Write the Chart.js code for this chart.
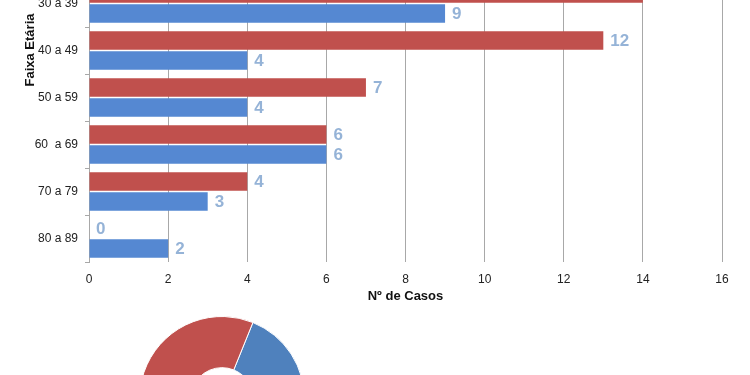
<!DOCTYPE html>
<html>
<head>
<meta charset="utf-8">
<script src="https://cdn.jsdelivr.net/npm/chart.js@4"></script>
<style>
    body { margin: 0; background: #fff; overflow: hidden; width: 750px; height: 375px; position: relative; }
    #barBox { position: absolute; left: 0; top: -40px; width: 750px; height: 348px; }
    #pieBox { position: absolute; left: 139px; top: 316px; width: 166px; height: 166px; }
</style>
</head>
<body>
<div id="barBox"><canvas id="barChart"></canvas></div>
<div id="pieBox"><canvas id="pieChart"></canvas></div>
<script>
// Faixas etárias (as que aparecem no recorte)
const faixas = ['30 a 39', '40 a 49', '50 a 59', '60  a 69', '70 a 79', '80 a 89'];
// comprimento das barras
const casosVermelho = [14, 13, 7, 6, 4, 0];
const casosAzul = [9, 4, 4, 6, 3, 2];
// rótulos escritos no gráfico (40 a 49 diz 12 embora a barra vá até 13)
const rotulosVermelho = ['14', '12', '7', '6', '4', '0'];
const rotulosAzul = ['9', '4', '4', '6', '3', '2'];
const ticksX = [0, 2, 4, 6, 8, 10, 12, 14, 16];
// rosca de baixo: azul, vermelho
const roscaValores = [28, 44];

const FONTE = '"Liberation Sans", Arial, sans-serif';

// escreve os valores à direita de cada barra
const rotulosPlugin = {
    id: 'rotulos',
    afterDatasetsDraw(chart) {
        const ctx = chart.ctx;
        const listas = [rotulosVermelho, rotulosAzul];
        ctx.save();
        ctx.font = 'bold 17px ' + FONTE;
        ctx.fillStyle = '#95B3D7';
        ctx.textAlign = 'left';
        ctx.textBaseline = 'middle';
        chart.data.datasets.forEach((ds, i) => {
            chart.getDatasetMeta(i).data.forEach((bar, j) => {
                ctx.fillText(listas[i][j], bar.x + 7, bar.y + 1);
            });
        });
        ctx.restore();
    }
};

// título do eixo Y (fica mais acima porque o eixo original é maior)
const tituloYPlugin = {
    id: 'tituloY',
    afterDraw(chart) {
        const ctx = chart.ctx;
        ctx.save();
        ctx.translate(30, 90);
        ctx.rotate(-Math.PI / 2);
        ctx.font = 'bold 13px ' + FONTE;
        ctx.fillStyle = '#111';
        ctx.textAlign = 'center';
        ctx.textBaseline = 'middle';
        ctx.fillText('Faixa Etária', 0, 0);
        ctx.restore();
    }
};

new Chart(document.getElementById('barChart'), {
    type: 'bar',
    data: {
        labels: faixas,
        datasets: [
            { data: casosVermelho, backgroundColor: '#C0504D' },
            { data: casosAzul, backgroundColor: '#5588D2' }
        ]
    },
    options: {
        indexAxis: 'y',
        responsive: true,
        maintainAspectRatio: false,
        animation: false,
        categoryPercentage: 0.85,
        barPercentage: 0.93,
        layout: { padding: { top: 20, right: 28, left: 0, bottom: 0 } },
        plugins: { legend: { display: false }, tooltip: { enabled: false } },
        scales: {
            x: {
                min: 0,
                max: 16,
                afterBuildTicks(scale) { scale.ticks = ticksX.map(v => ({ value: v })); },
                afterFit(scale) { scale.height = 46; },
                grid: { color: '#A8A8A8', drawTicks: false },
                border: { display: false },
                ticks: { padding: 10, color: '#222', font: { family: FONTE, size: 12 } },
                title: {
                    display: true,
                    text: 'Nº de Casos',
                    color: '#111',
                    font: { family: FONTE, size: 13, weight: 'bold' },
                    padding: { top: 1, bottom: 4 }
                }
            },
            y: {
                afterFit(scale) { scale.width = 89; },
                grid: { drawOnChartArea: false, drawTicks: true, tickLength: 4, color: '#A8A8A8', offset: true },
                border: { display: true, color: '#A8A8A8' },
                ticks: { padding: 7, color: '#222', font: { family: FONTE, size: 12 } }
            }
        }
    },
    plugins: [rotulosPlugin, tituloYPlugin]
});

new Chart(document.getElementById('pieChart'), {
    type: 'doughnut',
    data: {
        labels: ['Azul', 'Vermelho'],
        datasets: [{
            data: roscaValores,
            backgroundColor: ['#4F81BD', '#C0504D'],
            borderColor: '#ffffff',
            borderWidth: 1
        }]
    },
    options: {
        responsive: true,
        maintainAspectRatio: false,
        animation: false,
        rotation: 22,
        cutout: '38%',
        plugins: { legend: { display: false }, tooltip: { enabled: false } }
    }
});
</script>
</body>
</html>
